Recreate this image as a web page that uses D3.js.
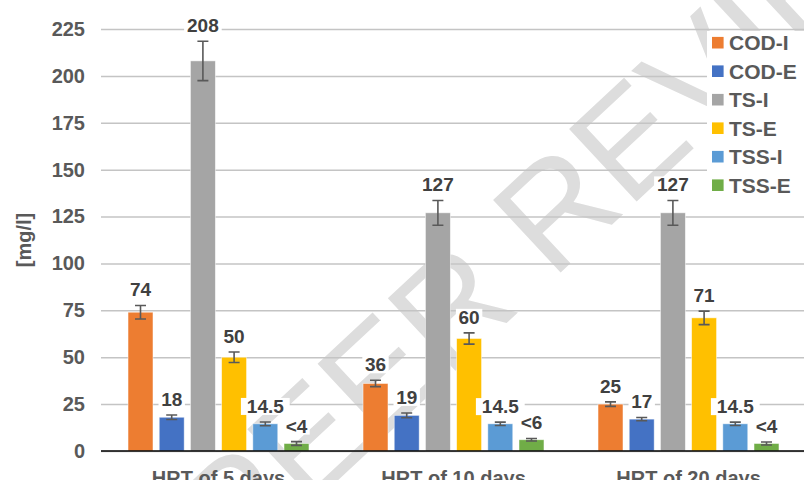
<!DOCTYPE html>
<html>
<head>
<meta charset="utf-8">
<script src="https://cdn.jsdelivr.net/npm/d3@7"></script>
<style>
  body { margin: 0; background: #fff; }
  svg { display: block; font-family: "Liberation Sans", Arial, sans-serif; }
</style>
</head>
<body>
<div id="chart"></div>
<script>
// data
var categories = ["HRT of 5 days", "HRT of 10 days", "HRT of 20 days"];
var seriesNames = ["COD-I", "COD-E", "TS-I", "TS-E", "TSS-I", "TSS-E"];
var seriesColors = ["#ED7D31", "#4472C4", "#A5A5A5", "#FFC000", "#5B9BD5", "#70AD47"];

var codI = [74, 36, 25];
var codE = [18, 19, 17];
var tsI = [208, 127, 127];
var tsE = [50, 60, 71];
var tssI = [14.5, 14.5, 14.5];
var tssE = [4, 6, 4];

// standard deviations (error bars)
var codIErr = [3.6, 1.7, 1.2];
var codEErr = [1.2, 1.3, 0.9];
var tsIErr = [10.5, 6.6, 6.6];
var tsEErr = [2.8, 3, 3.6];
var tssIErr = [1, 0.9, 0.9];
var tssEErr = [1, 0.7, 0.8];

var tssELabels = ["<4", "<6", "<4"];
var yTicks = [0, 25, 50, 75, 100, 125, 150, 175, 200, 225];

var values = [codI, codE, tsI, tsE, tssI, tssE];
var errors = [codIErr, codEErr, tsIErr, tsEErr, tssIErr, tssEErr];

var margin = {top: 29, right: 0, bottom: 29, left: 101}
  , width = 705
  , height = 422;

var rows = [];
categories.forEach(function(c, ci) {
  seriesNames.forEach(function(s, si) {
    var label = si === 5 ? tssELabels[ci] : String(values[si][ci]);
    rows.push({cat: c, series: s, si: si, value: values[si][ci], err: errors[si][ci], label: label});
  });
});

var x0 = d3.scaleBand()
    .domain(categories)
    .range([0, width])
    .paddingInner(0.23)
    .paddingOuter(0.115);

var x1 = d3.scaleBand()
    .domain(seriesNames)
    .range([0, x0.bandwidth()])
    .paddingInner(0.2);

var yScale = d3.scaleLinear()
    .domain([0, 225])
    .range([height, 0]);

var color = d3.scaleOrdinal()
    .domain(seriesNames)
    .range(seriesColors);

var svg = d3.select("#chart").append("svg")
    .attr("width", 804)
    .attr("height", 480);

// watermark, behind everything
svg.append("text")
    .attr("transform", "translate(568,198) rotate(-43)")
    .attr("text-anchor", "middle")
    .attr("dominant-baseline", "central")
    .style("font-family", "'Liberation Sans', Arial, sans-serif")
    .style("font-size", "144px")
    .style("fill", "#dddddd")
    .text("PEER REVIEW");

var g = svg.append("g")
    .attr("transform", "translate(" + margin.left + "," + margin.top + ")");

// gridlines
g.append("g")
    .attr("class", "grid")
    .call(d3.axisLeft(yScale).tickValues(yTicks).tickSize(-(804 - margin.left)).tickFormat(""))
    .call(function(a) {
      a.select(".domain").remove();
      a.selectAll("line").attr("stroke", "#c4c4c4").attr("stroke-width", 1.5);
    });

// y axis labels
g.append("g")
    .attr("class", "y axis")
    .call(d3.axisLeft(yScale).tickValues(yTicks).tickSize(0).tickPadding(16))
    .call(function(a) {
      a.select(".domain").remove();
      a.selectAll("text")
        .style("font-family", "'Liberation Sans', Arial, sans-serif")
        .style("font-size", "20px")
        .style("font-weight", "bold")
        .style("fill", "#595959");
    });

// y axis title
svg.append("text")
    .attr("transform", "translate(31,240) rotate(-90)")
    .attr("text-anchor", "middle")
    .style("font-size", "20px")
    .style("font-weight", "bold")
    .style("fill", "#595959")
    .text("[mg/l]");

// bars
var bar = g.selectAll(".bar")
    .data(rows)
  .enter().append("g")
    .attr("class", "bar")
    .attr("transform", function(d) { return "translate(" + (x0(d.cat) + x1(d.series)) + ",0)"; });

bar.append("rect")
    .attr("y", function(d) { return yScale(d.value); })
    .attr("width", x1.bandwidth())
    .attr("height", function(d) { return height - yScale(d.value); })
    .attr("fill", function(d) { return color(d.series); })
    .attr("stroke", "#ffffff")
    .attr("stroke-opacity", 0.6)
    .attr("stroke-width", 0.8);

// error bars
var cx = x1.bandwidth() / 2, cap = 5.5;
bar.append("path")
    .attr("d", function(d) {
      var t = yScale(d.value + d.err), b = yScale(d.value - d.err);
      return "M" + (cx - cap) + "," + t + "H" + (cx + cap) +
             "M" + cx + "," + t + "V" + b +
             "M" + (cx - cap) + "," + b + "H" + (cx + cap);
    })
    .attr("fill", "none")
    .attr("stroke", "#595959")
    .attr("stroke-width", 1.6);

// data labels with white box behind
var lab = bar.append("g")
    .attr("transform", function(d) { return "translate(" + cx + "," + (yScale(d.value + d.err) - 9) + ")"; });

lab.append("rect")
    .attr("x", function(d) { return -d.label.length * 5.6 - 2; })
    .attr("y", -15)
    .attr("width", function(d) { return d.label.length * 11.2 + 4; })
    .attr("height", 17)
    .attr("fill", "#fff");

lab.append("text")
    .attr("text-anchor", "middle")
    .style("font-size", "19px")
    .style("font-weight", "bold")
    .style("fill", "#404040")
    .text(function(d) { return d.label; });

// x axis
g.append("g")
    .attr("class", "x axis")
    .attr("transform", "translate(0," + height + ")")
    .call(d3.axisBottom(x0).tickSize(0).tickPadding(20))
    .call(function(a) {
      a.select(".domain").remove();
      a.selectAll("text")
        .style("font-family", "'Liberation Sans', Arial, sans-serif")
        .style("font-size", "20px")
        .style("font-weight", "bold")
        .style("fill", "#595959");
    });

g.append("line")
    .attr("x1", 0)
    .attr("x2", 804 - margin.left)
    .attr("y1", height)
    .attr("y2", height)
    .attr("stroke", "#000")
    .attr("stroke-width", 1.6);

// legend
var legend = svg.append("g")
    .attr("transform", "translate(707,31)");

legend.append("rect")
    .attr("width", 97)
    .attr("height", 170)
    .attr("fill", "#fff");

var item = legend.selectAll(".item")
    .data(seriesNames)
  .enter().append("g")
    .attr("class", "item")
    .attr("transform", function(d, i) { return "translate(5," + (11.7 + i * 28.5) + ")"; });

item.append("rect")
    .attr("y", -5.8)
    .attr("width", 11.6)
    .attr("height", 11.6)
    .attr("fill", function(d) { return color(d); });

item.append("text")
    .attr("x", 17)
    .attr("dy", "0.36em")
    .style("font-size", "21px")
    .style("font-weight", "bold")
    .style("fill", "#595959")
    .text(function(d) { return d; });
</script>
</body>
</html>
